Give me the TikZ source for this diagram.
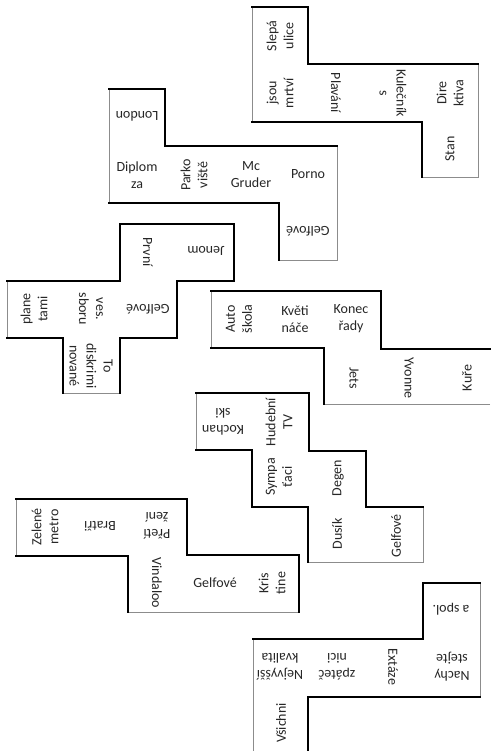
\documentclass[tikz,border=0pt]{standalone}
\usepackage{fontspec}
\setmainfont{Carlito}
\begin{document}
\begin{tikzpicture}[x=1pt,y=-1pt,
  thk/.style={line width=2.8pt, line cap=rect, line join=miter, black},
  thn/.style={line width=0.9pt, black!45},
  lbl/.style={font=\fontsize{14}{17}\selectfont, align=center, inner sep=0pt, text=black!85}]
\useasboundingbox[fill=white] (0,0) rectangle (490,751);

% ---------- piece 1 ----------
\draw[thn] (252,7)--(308,7)--(308,64)--(478,64)--(478,177)--(422,177)--(422,122)--(252,122)--cycle;
\draw[thk] (252,7)--(308,7)--(308,64)--(478,64);
\draw[thk] (422,177)--(422,122)--(252,122);
\node[lbl,rotate=90]  (a1) at (280,36)  {Slepá\\ulice};
\node[lbl,rotate=90]  (a2) at (280,93)  {jsou\\mrtví};
\node[lbl,rotate=-90] (a3) at (336,93)  {Plavání};
\node[lbl,rotate=-90] (a4) at (393,93)  {Kulečník\\s};
\node[lbl,rotate=90]  (a5) at (450,93)  {Dire\\ktiva};
\node[lbl,rotate=90]  (a6) at (450,149) {Stan};

% ---------- piece 2 ----------
\draw[thn] (109,89)--(165,89)--(165,146)--(337,146)--(337,260)--(279,260)--(279,203)--(109,203)--cycle;
\draw[thk] (109,89)--(165,89)--(165,146)--(337,146);
\draw[thk] (279,260)--(279,203)--(109,203);
\node[lbl,rotate=180] (b1) at (137,116) {London};
\node[lbl]            (b2) at (137,175) {Diplom\\za};
\node[lbl,rotate=90]  (b3) at (194,175) {Parko\\viště};
\node[lbl]            (b4) at (251,175) {Mc\\Gruder};
\node[lbl]            (b5) at (308,174) {Porno};
\node[lbl,rotate=180] (b6) at (308,231) {Gelfové};

% ---------- piece 3 ----------
\draw[thn] (120,224)--(234,224)--(234,281)--(177,281)--(177,338)--(120,338)--(120,393)--(63,393)--(63,338)--(7,338)--(7,281)--(120,281)--cycle;
\draw[thk] (7,281)--(120,281)--(120,224)--(234,224)--(234,281)--(177,281)--(177,338)--(120,338)--(120,393);
\draw[thk] (63,393)--(63,338)--(7,338);
\node[lbl,rotate=-90] (c1) at (148,252) {První};
\node[lbl,rotate=180] (c2) at (206,251) {Jenom};
\node[lbl,rotate=90]  (c3) at (34,309)  {plane\\tami};
\node[lbl,rotate=-90] (c4) at (91,309)  {ves.\\sboru};
\node[lbl,rotate=180] (c5) at (148,309) {Gelfové};
\node[lbl,rotate=-90] (c6) at (91,366)  {To\\diskrimi\\nované};

% ---------- piece 4 ----------
\draw[thn] (490,404)--(324,404)--(324,348)--(211,348)--(211,291)--(381,291)--(381,349)--(490,349);
\draw[thk] (324,404)--(324,348)--(211,348);
\draw[thk] (211,291)--(381,291)--(381,349)--(492,349);
\node[lbl,rotate=90]  (d1) at (239,319) {Auto\\škola};
\node[lbl]            (d2) at (295,319) {Květi\\náče};
\node[lbl]            (d3) at (351,319) {Konec\\řady};
\node[lbl,rotate=-90] (d4) at (354,378) {Jets};
\node[lbl,rotate=-90] (d5) at (409,378) {Yvonne};
\node[lbl,rotate=90]  (d6) at (467,378) {Kuře};

% ---------- piece 5 ----------
\draw[thn] (196,393)--(309,393)--(309,451)--(366,451)--(366,507)--(423,507)--(423,562)--(308,562)--(308,507)--(252,507)--(252,450)--(196,450)--cycle;
\draw[thk] (196,393)--(309,393)--(309,451)--(366,451)--(366,507)--(423,507);
\draw[thk] (308,562)--(308,507)--(252,507)--(252,450)--(196,450);
\node[lbl,rotate=180] (e1) at (223,422) {Kochan\\ski};
\node[lbl,rotate=90]  (e2) at (279,422) {Hudební\\TV};
\node[lbl,rotate=90]  (e3) at (279,477) {Sympa\\ťaci};
\node[lbl,rotate=90]  (e4) at (338,478) {Degen};
\node[lbl,rotate=90]  (e5) at (337,534) {Dusík};
\node[lbl,rotate=90]  (e6) at (396,536) {Gelfové};

% ---------- piece 6 ----------
\draw[thn] (16,499)--(187,499)--(187,555)--(299,555)--(299,612)--(128,612)--(128,556)--(16,556)--cycle;
\draw[thk] (128,612)--(128,556)--(16,556);
\draw[thk] (16,499)--(187,499)--(187,555)--(299,555)--(299,612);
\node[lbl,rotate=90]  (f1) at (45,527)  {Zelené\\metro};
\node[lbl,rotate=180] (f2) at (100,526) {Bratři};
\node[lbl,rotate=180] (f3) at (157,526) {Přetí\\žení};
\node[lbl,rotate=-90] (f4) at (157,583) {Vindaloo};
\node[lbl]            (f5) at (215,583) {Gelfové};
\node[lbl,rotate=90]  (f6) at (272,583) {Kris\\tine};

% ---------- piece 7 ----------
\draw[thn] (253,753)--(253,639)--(423,639)--(423,583)--(480,583)--(480,697)--(308,697)--(308,753);
\draw[thk] (253,639)--(423,639)--(423,583)--(480,583);
\draw[thk] (480,697)--(308,697)--(308,753);
\node[lbl,rotate=180] (g1) at (451,609) {a spol.};
\node[lbl,rotate=180] (g2) at (280,667) {Nejvyšší\\kvalita};
\node[lbl,rotate=180] (g3) at (337,667) {zpáteč\\nici};
\node[lbl,rotate=-90] (g4) at (393,667) {Extáze};
\node[lbl,rotate=180] (g5) at (452,667) {Nachy\\stejte};
\node[lbl,rotate=90]  (g6) at (281,723) {Všichni};
\end{tikzpicture}
\end{document}
